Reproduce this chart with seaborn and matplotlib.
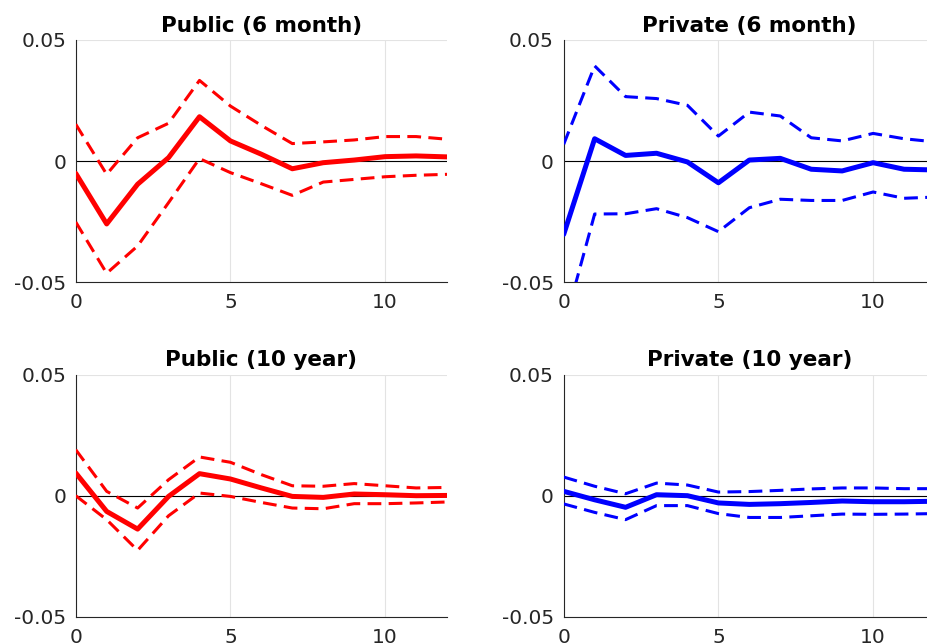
import matplotlib
matplotlib.use("Agg")
import matplotlib.pyplot as plt
import pandas as pd
import seaborn as sns

# impulse responses, horizons 0..12
horizon = list(range(13))

pub6_mid = [-0.0051, -0.0260, -0.0096, 0.0014, 0.0183, 0.0083, 0.0028, -0.0032, -0.0007, 0.0004, 0.0018, 0.0021, 0.0017]
pub6_hi = [0.0152, -0.0055, 0.0096, 0.0156, 0.0333, 0.0227, 0.0147, 0.0072, 0.0079, 0.0087, 0.0101, 0.0101, 0.0090]
pub6_lo = [-0.0252, -0.0464, -0.0351, -0.0172, 0.0010, -0.0048, -0.0094, -0.0142, -0.0087, -0.0076, -0.0065, -0.0059, -0.0055]

priv6_mid = [-0.0303, 0.0092, 0.0023, 0.0032, -0.0004, -0.0090, 0.0004, 0.0011, -0.0034, -0.0041, -0.0007, -0.0034, -0.0037]
priv6_hi = [0.0069, 0.0393, 0.0266, 0.0258, 0.0230, 0.0103, 0.0202, 0.0186, 0.0096, 0.0083, 0.0114, 0.0092, 0.0079]
priv6_lo = [-0.0687, -0.0219, -0.0218, -0.0197, -0.0234, -0.0292, -0.0193, -0.0158, -0.0163, -0.0163, -0.0128, -0.0154, -0.0149]

pub10_mid = [0.0094, -0.0065, -0.0138, -0.0003, 0.0091, 0.0069, 0.0032, -0.0003, -0.0007, 0.0007, 0.0004, 0.0000, 0.0001]
pub10_hi = [0.0190, 0.0018, -0.0051, 0.0066, 0.0160, 0.0138, 0.0087, 0.0041, 0.0039, 0.0050, 0.0041, 0.0032, 0.0034]
pub10_lo = [0.0000, -0.0099, -0.0226, -0.0083, 0.0011, -0.0003, -0.0028, -0.0051, -0.0054, -0.0033, -0.0033, -0.0030, -0.0026]

priv10_mid = [0.0018, -0.0017, -0.0048, 0.0004, 0.0000, -0.0030, -0.0036, -0.0033, -0.0028, -0.0022, -0.0025, -0.0025, -0.0023]
priv10_hi = [0.0077, 0.0039, 0.0008, 0.0052, 0.0044, 0.0015, 0.0017, 0.0022, 0.0028, 0.0032, 0.0032, 0.0029, 0.0029]
priv10_lo = [-0.0034, -0.0069, -0.0099, -0.0041, -0.0041, -0.0074, -0.0090, -0.0090, -0.0083, -0.0076, -0.0077, -0.0076, -0.0074]

titles = ["Public (6 month)", "Private (6 month)", "Public (10 year)", "Private (10 year)"]
colors = ["#ff0000", "#0000ff", "#ff0000", "#0000ff"]
series = [
    (pub6_mid, pub6_lo, pub6_hi),
    (priv6_mid, priv6_lo, priv6_hi),
    (pub10_mid, pub10_lo, pub10_hi),
    (priv10_mid, priv10_lo, priv10_hi),
]


def tidy(mid, lo, hi) -> pd.DataFrame:
    parts = []
    for band, vals in (("mid", mid), ("lo", lo), ("hi", hi)):
        parts.append(pd.DataFrame({"horizon": horizon, "value": vals, "band": band}))
    return pd.concat(parts, ignore_index=True)


sns.set_theme(style="white")
plt.rcParams.update(
    {
        "font.family": ["DejaVu Sans"],
        "axes.edgecolor": "#262626",
        "axes.linewidth": 0.8,
        "xtick.direction": "in",
        "ytick.direction": "in",
        "xtick.major.size": 4,
        "ytick.major.size": 4,
        "xtick.major.width": 0.6,
        "ytick.major.width": 0.6,
    }
)

fig = plt.figure(figsize=(9.27, 6.43), dpi=100)
positions = [
    (0.0817, 0.5614, 0.4005, 0.3764),
    (0.6081, 0.5614, 0.4005, 0.3764),
    (0.0817, 0.0409, 0.4005, 0.3764),
    (0.6081, 0.0409, 0.4005, 0.3764),
]

for pos, title, color, (mid, lo, hi) in zip(positions, titles, colors, series):
    ax = fig.add_axes(pos)
    frame = tidy(mid, lo, hi)
    ax.axhline(0, color="black", lw=0.8, zorder=1)
    sns.lineplot(
        data=frame,
        x="horizon",
        y="value",
        style="band",
        size="band",
        sizes={"mid": 3.6, "lo": 2.2, "hi": 2.2},
        dashes={"mid": "", "lo": (4.5, 2.4), "hi": (4.5, 2.4)},
        color=color,
        legend=False,
        ax=ax,
        zorder=3,
    )
    ax.set_xlim(0, 12)
    ax.set_ylim(-0.05, 0.05)
    ax.set_xticks([0, 5, 10])
    ax.set_yticks([-0.05, 0, 0.05])
    ax.set_yticklabels(["-0.05", "0", "0.05"])
    ax.grid(True, color="#e3e3e3", lw=0.8, zorder=0)
    ax.set_axisbelow(True)
    ax.set_xlabel("")
    ax.set_ylabel("")
    ax.tick_params(labelsize=14.5, colors="#262626", labelcolor="#262626")
    ax.tick_params(axis="y", pad=7)
    ax.tick_params(axis="x", pad=8)
    ax.spines["top"].set_visible(False)
    ax.spines["right"].set_visible(False)
    ax.set_title(title, fontsize=15.5, fontweight="bold", pad=6, color="black")

fig.savefig("out.png", dpi=100)
